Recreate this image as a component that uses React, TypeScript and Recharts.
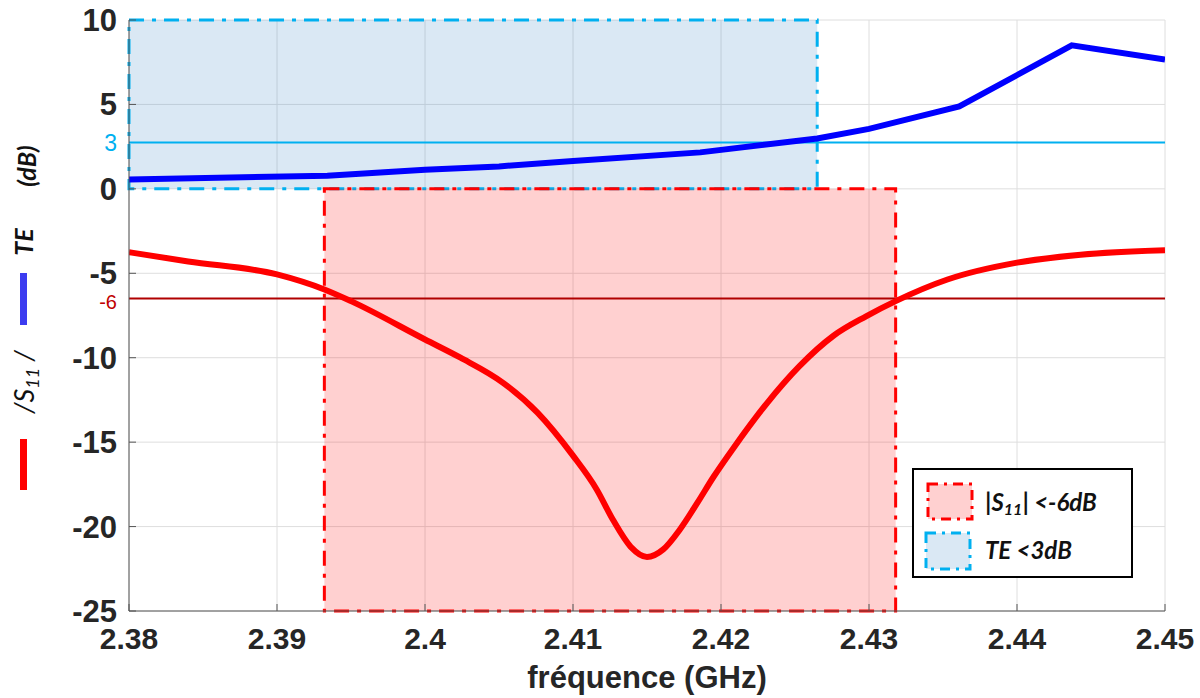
import { LineChart, Line, XAxis, YAxis, CartesianGrid, ReferenceArea, ReferenceLine } from 'recharts';

const xTicks = [2.38, 2.39, 2.4, 2.41, 2.42, 2.43, 2.44, 2.45];
const yTicks = [-25, -20, -15, -10, -5, 0, 5, 10];

// |S11| (dB)
const s11Freq = [2.38, 2.384, 2.39, 2.3932, 2.395, 2.4, 2.4024, 2.4053, 2.4076, 2.41, 2.4116, 2.4127, 2.4139, 2.415, 2.4161, 2.4172, 2.4184, 2.4195, 2.4208, 2.4231, 2.4253, 2.4276, 2.4298, 2.4318, 2.4353, 2.44, 2.4443, 2.45];
const s11Db = [-3.75, -4.3, -5.07, -5.96, -6.65, -8.92, -10.0, -11.5, -13.25, -15.8, -17.8, -19.6, -21.2, -21.8, -21.35, -20.2, -18.6, -17.05, -15.4, -12.7, -10.5, -8.7, -7.55, -6.65, -5.37, -4.37, -3.9, -3.64];

// TE (dB)
const teFreq = [2.38, 2.3934, 2.4, 2.405, 2.41, 2.4186, 2.4265, 2.43, 2.4361, 2.4437, 2.45];
const teDb = [0.55, 0.78, 1.13, 1.33, 1.65, 2.16, 2.98, 3.55, 4.88, 8.5, 7.66];

// shaded bands
const s11Band = [2.3932, 2.4318];
const teBand = [2.38, 2.4265];

// threshold lines, at the height they are drawn in the picture
const teLine = { level: 2.75, label: '3' };
const s11Line = { level: -6.5, label: '-6' };

const s11Data = s11Freq.map((f, i) => ({ f, v: s11Db[i] }));
const teData = teFreq.map((f, i) => ({ f, v: teDb[i] }));

const font = "'Liberation Sans', Arial, sans-serif";
const legendFont = "Lato, 'Liberation Sans', sans-serif";
const axisColor = '#555';
const dashDot = '15 8 4 8';

function Overlay() {
  return (
    <svg width={1200} height={698} style={{ position: 'absolute', left: 0, top: 0, pointerEvents: 'none' }}>
      {/* left vertical legend */}
      <rect x={20} y={439} width={7} height={51} fill="#ff0000" />
      <text transform="translate(34,382) rotate(-90)" textAnchor="middle" fontFamily={legendFont} fontStyle="italic" fontSize={27} fill="#111">
        /S<tspan fontSize={18} dy={5}>11</tspan><tspan dy={-5}> /</tspan>
      </text>
      <rect x={20} y={273} width={7} height={52} fill="#3c3cf0" />
      <text transform="translate(33,242) rotate(-90)" textAnchor="middle" fontFamily={legendFont} fontStyle="italic" fontWeight="bold" fontSize={25} fill="#111">TE</text>
      <text transform="translate(36,166) rotate(-90)" textAnchor="middle" fontFamily={legendFont} fontStyle="italic" fontWeight="bold" fontSize={25} fill="#111">(dB)</text>

      {/* box legend */}
      <rect x={913} y={469} width={219} height={108} fill="#fff" stroke="#000" strokeWidth={2} />
      <rect x={928} y={484} width={44} height={35} fill="#ffd0d0" stroke="#ff0000" strokeWidth={3} strokeDasharray="10 6 3 6" />
      <text x={985} y={511} fontFamily={legendFont} fontStyle="italic" fontWeight="bold" fontSize={24} fill="#111">
        |S<tspan fontSize={16} dy={4}>11</tspan><tspan dy={-4}>|  &lt;-6dB</tspan>
      </text>
      <rect x={926} y={533} width={44} height={36} fill="#dae8f4" stroke="#00b0f0" strokeWidth={3} strokeDasharray="10 6 3 6" />
      <text x={985} y={559} fontFamily={legendFont} fontStyle="italic" fontWeight="bold" fontSize={24} fill="#111">TE &lt;3dB</text>
    </svg>
  );
}

export default function App() {
  return (
    <div style={{ position: 'fixed', left: 0, top: 0, width: 1200, height: 698, background: '#fff' }}>
      <LineChart width={1200} height={698} margin={{ top: 20, right: 35, left: 29, bottom: 7 }}>
        <CartesianGrid stroke="#dedede" strokeWidth={1} />
        <XAxis
          dataKey="f"
          type="number"
          domain={[2.38, 2.45]}
          ticks={xTicks}
          allowDataOverflow
          height={80}
          stroke={axisColor}
          tickSize={-7}
          tickMargin={24}
          tick={{ fill: '#262626', fontSize: 30, fontWeight: 'bold', fontFamily: font }}
          label={{ value: 'fréquence (GHz)', position: 'insideBottom', offset: 3, fill: '#262626', fontSize: 31, fontWeight: 'bold', fontFamily: font }}
        />
        <XAxis xAxisId="top" orientation="top" type="number" domain={[2.38, 2.45]} ticks={xTicks} height={0} mirror allowDataOverflow stroke={axisColor} tickSize={7} tickFormatter={() => ''} />
        <YAxis
          type="number"
          domain={[-25, 10]}
          ticks={yTicks}
          allowDataOverflow
          width={100}
          stroke={axisColor}
          tickSize={-7}
          tickMargin={19}
          tick={{ fill: '#262626', fontSize: 31, fontWeight: 'bold', fontFamily: font }}
        />
        <YAxis yAxisId="right" orientation="right" type="number" domain={[-25, 10]} ticks={yTicks} width={0} mirror allowDataOverflow stroke={axisColor} tickSize={7} tickFormatter={() => ''} />

        <ReferenceArea x1={teBand[0]} x2={teBand[1]} y1={0} y2={10} fill="rgb(70,140,200)" fillOpacity={0.2} stroke="#00b0f0" strokeWidth={3} strokeDasharray={dashDot} ifOverflow="visible" />
        <ReferenceArea x1={s11Band[0]} x2={s11Band[1]} y1={-25} y2={0} fill="rgb(255,20,20)" fillOpacity={0.2} stroke="#ff0000" strokeWidth={3} strokeDasharray={dashDot} ifOverflow="visible" />

        <ReferenceLine y={teLine.level} stroke="#00b0f0" strokeWidth={2} label={{ value: teLine.label, position: 'left', offset: 12, fill: '#00b0f0', fontSize: 23, fontFamily: font }} />
        <ReferenceLine y={s11Line.level} stroke="#b00000" strokeWidth={2} label={{ value: s11Line.label, position: 'left', offset: 12, dy: 3, fill: '#c00000', fontSize: 20, fontFamily: font }} />

        <Line data={s11Data} dataKey="v" type="monotone" stroke="#ff0000" strokeWidth={6} dot={false} isAnimationActive={false} />
        <Line data={teData} dataKey="v" type="linear" stroke="#0000ff" strokeWidth={6} dot={false} isAnimationActive={false} />
      </LineChart>
      <Overlay />
    </div>
  );
}
